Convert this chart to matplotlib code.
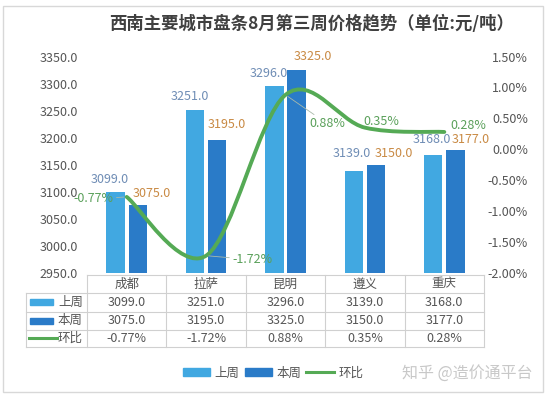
import matplotlib
matplotlib.use('Agg')
import matplotlib.pyplot as plt
import matplotlib.transforms as mtransforms
from matplotlib.patches import Rectangle, PathPatch
from matplotlib.lines import Line2D
from matplotlib.path import Path
from matplotlib.ticker import FuncFormatter, MultipleLocator

plt.rcParams['font.family'] = ['Noto Sans CJK SC', 'DejaVu Sans']

# 数据
cities = ['成都', '拉萨', '昆明', '遵义', '重庆']
last_week = [3099.0, 3251.0, 3296.0, 3139.0, 3168.0]
this_week = [3075.0, 3195.0, 3325.0, 3150.0, 3177.0]
change = [-0.77, -1.72, 0.88, 0.35, 0.28]  # 环比, %

title = '西南主要城市盘条8月第三周价格趋势（单位:元/吨）'

c_last = '#41a8e1'
c_this = '#2a7bc8'
c_line = '#55aa55'
c_text = '#555555'

W, H = 548, 397
fig = plt.figure(figsize=(W / 100, H / 100), dpi=100)


def fx(px):
    return px / W


def fy(py):
    return 1 - py / H


ax_l, ax_r, ax_t, ax_b = 87, 484, 56.5, 273
ax = fig.add_axes([fx(ax_l), fy(ax_b), (ax_r - ax_l) / W, (ax_b - ax_t) / H])
ax2 = ax.twinx()

x = list(range(len(cities)))
bw = 0.23
off = 0.14
ax.bar([i - off for i in x], last_week, bw, color=c_last, zorder=2)
ax.bar([i + off for i in x], this_week, bw, color=c_this, zorder=2)
ax.set_xlim(-0.5, len(cities) - 0.5)
ax.set_ylim(2950, 3350)
ax.yaxis.set_major_locator(MultipleLocator(50))
ax.yaxis.set_major_formatter(FuncFormatter(lambda v, p: f'{v:.1f}'))
ax.set_xticks([])
ax.tick_params(axis='y', length=0, pad=6.5, labelsize=9, labelcolor=c_text)

ax2.set_ylim(-2.0, 1.5)
ax2.yaxis.set_major_locator(MultipleLocator(0.5))
ax2.yaxis.set_major_formatter(FuncFormatter(lambda v, p: f'{v:.2f}%'))
ax2.tick_params(axis='y', length=0, pad=31.7, labelsize=9, labelcolor=c_text)
plt.setp(ax2.get_yticklabels(), ha='right')

for a in (ax, ax2):
    for s in a.spines.values():
        s.set_visible(False)
ax.patch.set_visible(False)

# 平滑曲线 (Catmull-Rom -> Bezier)
pts = list(zip(x, change))
n = len(pts)
verts = [pts[0]]
codes = [Path.MOVETO]
for i in range(n - 1):
    p0 = pts[i - 1] if i > 0 else pts[i]
    p1 = pts[i]
    p2 = pts[i + 1]
    p3 = pts[i + 2] if i + 2 < n else pts[i + 1]
    c1 = (p1[0] + (p2[0] - p0[0]) / 6, p1[1] + (p2[1] - p0[1]) / 6)
    c2 = (p2[0] - (p3[0] - p1[0]) / 6, p2[1] - (p3[1] - p1[1]) / 6)
    verts += [c1, c2, p2]
    codes += [Path.CURVE4] * 3
ax2.add_patch(PathPatch(Path(verts, codes), facecolor='none', edgecolor=c_line,
                        lw=2.8, capstyle='round', zorder=3))

# 数据标签 (偏移, 像素)
last_off = [(-6, 13), (-5, 14), (-6, 12), (-2, 17), (-1, 16)]
this_off = [(14, 12), (10, 16), (16, 14), (18, 11), (15, 11)]
chg_off = [(-33, -2), (46, -4), (42, -29), (16, 6), (24, 6)]
leader = [True, True, True, False, False]

for i in x:
    ax.annotate(f'{last_week[i]:.1f}', (i - off, last_week[i]), xytext=last_off[i],
                textcoords='offset pixels', ha='center', va='center',
                fontsize=9, color='#6f8db5', zorder=5)
    ax.annotate(f'{this_week[i]:.1f}', (i + off, this_week[i]), xytext=this_off[i],
                textcoords='offset pixels', ha='center', va='center',
                fontsize=9, color='#c98a44', zorder=5)
    ap = dict(arrowstyle='-', color='#a9b9a9', lw=0.6, shrinkA=0, shrinkB=2) if leader[i] else None
    ax2.annotate(f'{change[i]:.2f}%', (i, change[i]), xytext=chg_off[i],
                 textcoords='offset pixels', ha='center', va='center',
                 fontsize=9, color='#5aa05a', arrowprops=ap, zorder=5)

# 数据表
tr = mtransforms.blended_transform_factory(ax.transData, fig.transFigure)
grid_c = '#d0d0d0'
rows_y = [275, 293, 311.5, 329.5, 347]
tab_left = 26
for k, yy in enumerate(rows_y):
    x0 = tab_left if k >= 1 else ax_l
    fig.add_artist(Line2D([fx(x0), fx(ax_r)], [fy(yy), fy(yy)], color=grid_c, lw=0.8))
fig.add_artist(Line2D([fx(tab_left), fx(tab_left)], [fy(rows_y[1]), fy(rows_y[-1])], color=grid_c, lw=0.8))
for j in range(len(cities) + 1):
    fig.add_artist(Line2D([j - 0.5, j - 0.5], [fy(rows_y[0]), fy(rows_y[-1])],
                          transform=tr, color=grid_c, lw=0.8))

row_mid = [(rows_y[k] + rows_y[k + 1]) / 2 for k in range(4)]
for i in x:
    fig.text(i, fy(row_mid[0]), cities[i], transform=tr, ha='center', va='center', fontsize=9, color=c_text)
    fig.text(i, fy(row_mid[1]), f'{last_week[i]:.1f}', transform=tr, ha='center', va='center', fontsize=9, color=c_text)
    fig.text(i, fy(row_mid[2]), f'{this_week[i]:.1f}', transform=tr, ha='center', va='center', fontsize=9, color=c_text)
    fig.text(i, fy(row_mid[3]), f'{change[i]:.2f}%', transform=tr, ha='center', va='center', fontsize=9, color=c_text)

series_names = ['上周', '本周', '环比']
fig.add_artist(Rectangle((fx(30), fy(row_mid[1] + 3)), 23 / W, 6 / H, color=c_last, transform=fig.transFigure))
fig.add_artist(Rectangle((fx(30), fy(row_mid[2] + 3)), 23 / W, 6 / H, color=c_this, transform=fig.transFigure))
fig.add_artist(Line2D([fx(29), fx(57)], [fy(row_mid[3]), fy(row_mid[3])], color=c_line, lw=2.2))
for k, name in enumerate(series_names):
    fig.text(fx(83), fy(row_mid[k + 1]), name, ha='right', va='center', fontsize=9, color=c_text)

# 标题
fig.text(fx(312), fy(24), title, ha='center', va='center', fontsize=12.5,
         fontweight='bold', color='#404040')

# 图例
handles = [Rectangle((0, 0), 1, 1, color=c_last), Rectangle((0, 0), 1, 1, color=c_this),
           Line2D([], [], color=c_line, lw=2.2)]
fig.legend(handles, series_names, loc='center', bbox_to_anchor=(fx(273), fy(373)), ncol=3,
           frameon=False, fontsize=9, handlelength=2.2, handleheight=0.55,
           handletextpad=0.35, columnspacing=0.4, labelcolor=c_text)

fig.text(fx(533), fy(373), '知乎 @造价通平台', ha='right', va='center', fontsize=11.5, color='#c8c8c8')

# 外框
fig.add_artist(Rectangle((fx(3), fy(392)), 540 / W, 386 / H, fill=False,
                         edgecolor='#d8d8d8', lw=1, transform=fig.transFigure))

fig.savefig('out.png', dpi=100)
